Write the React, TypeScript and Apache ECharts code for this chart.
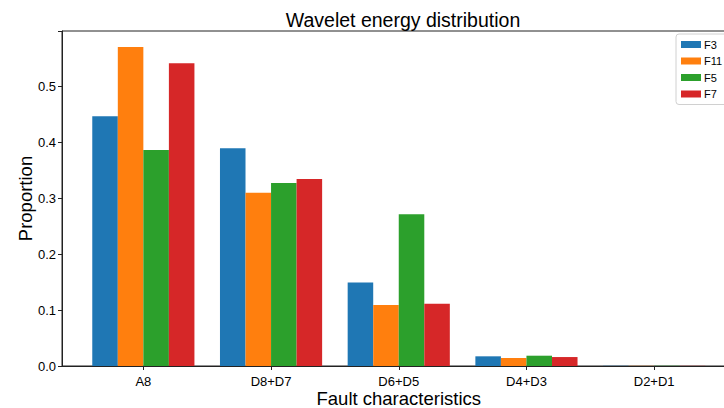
import React, { useEffect, useRef } from "react";
import * as echarts from "echarts";

const categories = ["A8", "D8+D7", "D6+D5", "D4+D3", "D2+D1"];
const seriesNames = ["F3", "F11", "F5", "F7"];
const f3 = [0.446, 0.389, 0.149, 0.0173, 0.0004];
const f11 = [0.57, 0.3095, 0.109, 0.0143, 0.0003];
const f5 = [0.386, 0.327, 0.271, 0.0184, 0.0004];
const f7 = [0.541, 0.334, 0.111, 0.016, 0.0003];
const colors = ["#1f77b4", "#ff7f0e", "#2ca02c", "#d62728"];
const yTicks = [0, 0.1, 0.2, 0.3, 0.4, 0.5];
const yMax = 0.5985;

const FONT = "Liberation Sans";

export default function App() {
  const ref = useRef<HTMLDivElement>(null);
  useEffect(() => {
    if (!ref.current) return;
    const chart = echarts.init(ref.current, undefined, { renderer: "svg" });
    const values = [f3, f11, f5, f7];
    chart.setOption({
      animation: false,
      textStyle: { fontFamily: FONT },
      title: {
        text: "Wavelet energy distribution",
        left: 398,
        top: 5,
        textAlign: "center",
        textStyle: { fontFamily: FONT, fontSize: 19.5, fontWeight: "normal", color: "#000" },
      },
      legend: {
        data: seriesNames,
        orient: "vertical",
        left: 676,
        top: 34,
        icon: "rect",
        itemWidth: 20,
        itemHeight: 7,
        itemGap: 5.5,
        padding: [5, 6, 5, 5],
        borderColor: "#d0d0d0",
        borderWidth: 1,
        borderRadius: 3,
        textStyle: { fontFamily: FONT, fontSize: 11, color: "#000", padding: [0, 0, 0, -2] },
      },
      grid: [
        { left: 79.5, width: 638.5, top: 31, bottom: 42, containLabel: false, outerBoundsMode: "none" },
        {
          left: 62,
          right: -11,
          top: 31,
          bottom: 42,
          show: true,
          borderColor: "#222",
          borderWidth: 1,
          backgroundColor: "transparent",
          containLabel: false,
          outerBoundsMode: "none",
        },
      ],
      xAxis: [
        {
          type: "category",
          gridIndex: 0,
          data: categories,
          axisLine: { show: false },
          axisTick: { show: true, alignWithLabel: true, length: 4, lineStyle: { color: "#222" } },
          axisLabel: { fontFamily: FONT, fontSize: 13, lineHeight: 14, color: "#000", margin: 8 },
          name: "Fault characteristics",
          nameLocation: "middle",
          nameGap: 23,
          nameMoveOverlap: false,
          nameTextStyle: { fontFamily: FONT, fontSize: 18.5, lineHeight: 19, color: "#000", verticalAlign: "top" },
        },
        {
          type: "value",
          gridIndex: 1,
          min: 0,
          max: 1,
          axisLine: { show: true, lineStyle: { color: "#222" } },
          axisTick: { show: false },
          axisLabel: { show: false },
          splitLine: { show: false },
        },
      ],
      yAxis: [
        {
          type: "value",
          gridIndex: 0,
          min: 0,
          max: yMax,
          show: false,
          splitLine: { show: false },
        },
        {
          type: "value",
          gridIndex: 1,
          min: 0,
          max: yMax,
          interval: 0.1,
          axisLine: { show: true, lineStyle: { color: "#222" } },
          axisTick: { show: true, length: 4, lineStyle: { color: "#222" } },
          axisLabel: {
            fontFamily: FONT,
            fontSize: 13,
            color: "#000",
            margin: 6,
            formatter: (v: number) => (yTicks.some((t) => Math.abs(t - v) < 1e-6) ? v.toFixed(1) : ""),
          },
          splitLine: { show: false },
          name: "Proportion",
          nameLocation: "middle",
          nameGap: 37,
          nameMoveOverlap: false,
          nameTextStyle: { fontFamily: FONT, fontSize: 18.5, color: "#000", verticalAlign: "middle" },
        },
      ],
      series: seriesNames.map((name, i) => ({
        name,
        type: "bar",
        xAxisIndex: 0,
        yAxisIndex: 0,
        data: values[i],
        barWidth: "20%",
        barGap: "0%",
        itemStyle: { color: colors[i] },
      })),
    });
    return () => chart.dispose();
  }, []);
  return (
    <div
      ref={ref}
      style={{ position: "fixed", left: 0, top: 0, width: 724, height: 408, background: "#fff" }}
    />
  );
}
